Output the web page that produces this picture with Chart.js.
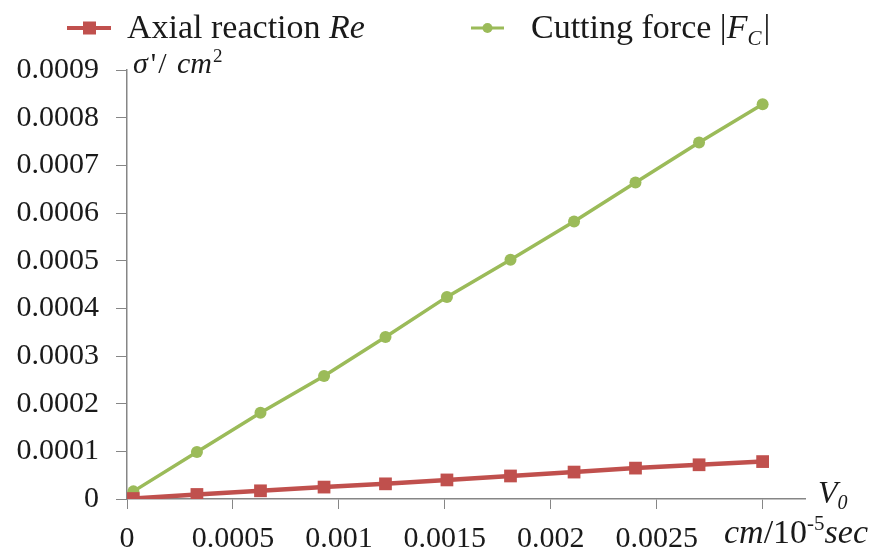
<!DOCTYPE html>
<html>
<head>
<meta charset="utf-8">
<script src="https://cdn.jsdelivr.net/npm/chart.js@4"></script>
<style>
  html, body { margin: 0; padding: 0; background: #ffffff; }
  #wrap { width: 876px; height: 554px; }
</style>
</head>
<body>
<div id="wrap"><canvas id="c" width="876" height="554"></canvas></div>
<script>
// ---- data ----
const xValues = [0.00003, 0.00033, 0.00063, 0.00093, 0.00122, 0.00151, 0.00181, 0.00211, 0.0024, 0.0027, 0.003];
const axialReaction = [0.000001, 0.0000095, 0.0000172, 0.000025, 0.0000318, 0.00004, 0.0000483, 0.0000565, 0.0000648, 0.0000718, 0.0000785];
const cuttingForce = [0.000016, 0.0000987, 0.000181, 0.000258, 0.00034, 0.000424, 0.000502, 0.000582, 0.000664, 0.000748, 0.000828];
const xTickValues = [0, 0.0005, 0.001, 0.0015, 0.002, 0.0025, 0.003];
const xTickLabels = ['0', '0.0005', '0.001', '0.0015', '0.002', '0.0025', ''];
const yTickValues = [0, 0.0001, 0.0002, 0.0003, 0.0004, 0.0005, 0.0006, 0.0007, 0.0008, 0.0009];
const yTickLabels = ['0', '0.0001', '0.0002', '0.0003', '0.0004', '0.0005', '0.0006', '0.0007', '0.0008', '0.0009'];

const RED = '#C0504D';
const GREEN = '#9BBB59';
const AXIS = '#868686';
const SERIF = '"Liberation Serif", "Times New Roman", serif';

function toPoints(xs, ys) { return xs.map((x, i) => ({ x: x, y: ys[i] })); }

// rich text helper: parts [{t, it, sup, sub, gap}]
function drawRich(ctx, x, y, parts, baseSize) {
  let cx = x;
  parts.forEach(p => {
    let size = baseSize;
    let dy = 0;
    if (p.sup) { size = Math.round(baseSize * 0.62); dy = -baseSize * 0.38; }
    if (p.sub) { size = Math.round(baseSize * 0.62); dy = baseSize * 0.2; }
    ctx.font = (p.it ? 'italic ' : '') + size + 'px ' + SERIF;
    ctx.fillText(p.t, cx, y + dy);
    cx += ctx.measureText(p.t).width + (p.gap || 0);
  });
  return cx;
}

const decorPlugin = {
  id: 'decor',
  afterDraw(chart) {
    const ctx = chart.ctx;
    ctx.save();
    ctx.textBaseline = 'alphabetic';
    ctx.textAlign = 'left';

    // legend
    const ly = 28;
    ctx.strokeStyle = RED; ctx.lineWidth = 4;
    ctx.beginPath(); ctx.moveTo(67, ly); ctx.lineTo(111, ly); ctx.stroke();
    ctx.fillStyle = RED; ctx.fillRect(83, ly - 6.5, 13, 13);
    ctx.strokeStyle = GREEN; ctx.lineWidth = 3;
    ctx.beginPath(); ctx.moveTo(471, ly); ctx.lineTo(504, ly); ctx.stroke();
    ctx.fillStyle = GREEN; ctx.beginPath(); ctx.arc(487.5, ly, 5, 0, Math.PI * 2); ctx.fill();

    ctx.fillStyle = '#1a1a1a';
    drawRich(ctx, 127, 38, [{ t: 'Axial reaction ' }, { t: 'Re', it: true }], 34);
    drawRich(ctx, 531, 38, [{ t: 'Cutting force |' }, { t: 'F', it: true }, { t: 'C', it: true, sub: true, gap: 2 }, { t: '|' }], 34);

    // y-axis title
    drawRich(ctx, 133, 73, [{ t: 'σ', it: true, gap: 3 }, { t: "'", gap: 2 }, { t: '/ ', gap: 3 }, { t: 'cm', it: true, gap: 1 }, { t: '2', sup: true }], 30);
    // x-axis title
    drawRich(ctx, 818, 503, [{ t: 'V', it: true }, { t: '0', it: true, sub: true }], 32);
    drawRich(ctx, 724, 543, [{ t: 'cm', it: true }, { t: '/10' }, { t: '-5', sup: true }, { t: 'sec', it: true }], 34);
    ctx.restore();
  }
};

new Chart(document.getElementById('c'), {
  type: 'scatter',
  data: {
    datasets: [
      {
        label: 'Axial reaction Re',
        data: toPoints(xValues, axialReaction),
        showLine: true,
        borderColor: RED,
        backgroundColor: RED,
        borderWidth: 4.5,
        pointStyle: 'rect',
        pointRadius: 9,
        pointBorderWidth: 0,
        pointHoverRadius: 9,
        order: 1
      },
      {
        label: 'Cutting force |FC|',
        data: toPoints(xValues, cuttingForce),
        showLine: true,
        borderColor: GREEN,
        backgroundColor: GREEN,
        borderWidth: 3.5,
        pointStyle: 'circle',
        pointRadius: 6,
        pointBorderWidth: 0,
        pointHoverRadius: 6,
        order: 2
      }
    ]
  },
  options: {
    responsive: false,
    animation: false,
    layout: { padding: { top: 70, right: 71, left: 0, bottom: 0 } },
    plugins: { legend: { display: false }, tooltip: { enabled: false } },
    scales: {
      x: {
        type: 'linear',
        min: 0,
        max: 0.0032,
        afterBuildTicks(scale) { scale.ticks = xTickValues.map(v => ({ value: v })); },
        afterFit(scale) { scale.height = 55; },
        ticks: {
          autoSkip: false,
          maxRotation: 0,
          padding: 12,
          color: '#1a1a1a',
          font: { family: SERIF, size: 30 },
          callback(v, i) { return xTickLabels[i]; }
        },
        grid: { display: true, drawOnChartArea: false, drawTicks: true, tickLength: 10, color: AXIS, lineWidth: 1 },
        border: { display: true, color: AXIS, width: 1.5 }
      },
      y: {
        type: 'linear',
        min: 0,
        max: 0.0009,
        afterBuildTicks(scale) { scale.ticks = yTickValues.map(v => ({ value: v })); },
        afterFit(scale) { scale.width = 127; },
        ticks: {
          autoSkip: false,
          padding: 17,
          color: '#1a1a1a',
          font: { family: SERIF, size: 30 },
          callback(v, i) { return yTickLabels[i]; }
        },
        grid: { display: true, drawOnChartArea: false, drawTicks: true, tickLength: 11, color: AXIS, lineWidth: 1 },
        border: { display: true, color: AXIS, width: 1.5 }
      }
    }
  },
  plugins: [decorPlugin]
});
</script>
</body>
</html>
